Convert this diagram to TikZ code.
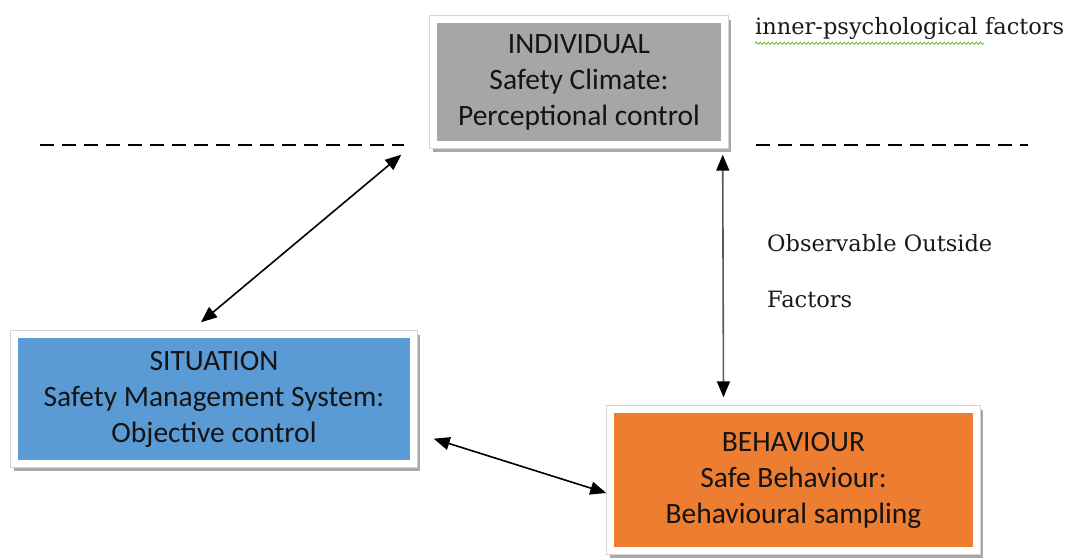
\documentclass[tikz,border=0pt]{standalone}
\usepackage{fontspec}
\setmainfont{DejaVu Serif}
\newfontfamily\boxfont{Carlito}
\usetikzlibrary{arrows.meta,calc,fit,backgrounds,shadows,decorations.pathmorphing}

\definecolor{greyfill}{HTML}{A6A6A6}
\definecolor{bluefill}{HTML}{5B9BD5}
\definecolor{orangefill}{HTML}{ED7D31}
\definecolor{framegrey}{HTML}{D4D4D4}
\definecolor{shadowgrey}{HTML}{A8A8A8}
\definecolor{spellgreen}{HTML}{6DB33F}

\tikzset{
  x=1pt, y=-1pt,
  panel/.style={rectangle, inner sep=0pt, align=center, text=black!92,
    font=\boxfont\fontsize{29.5}{36}\selectfont},
  frame/.style={rectangle, inner sep=7pt, fill=white, draw=framegrey, line width=1pt,
    drop shadow={shadow xshift=3pt, shadow yshift=-4pt, fill=shadowgrey, opacity=1}},
  link/.style={line width=1.6pt,
    {Triangle[length=16pt,width=13pt,color=black]}-{Triangle[length=16pt,width=13pt,color=black]}},
  divider/.style={line width=1.3pt, dash pattern=on 14pt off 8pt},
  note/.style={inner sep=0pt, anchor=west, text=black!90, font=\fontsize{22.5}{27}\selectfont}
}

\begin{document}
\begin{tikzpicture}
\useasboundingbox (0,0) rectangle (1071,558);

% coloured panels
\node[panel, fill=greyfill, minimum width=284pt, minimum height=118pt] (ind) at (579,82)
  {INDIVIDUAL\\Safety Climate:\\Perceptional control};
\node[panel, fill=bluefill, minimum width=392pt, minimum height=122pt] (sit) at (214,399)
  {SITUATION\\Safety Management System:\\Objective control};
\node[panel, fill=orangefill, minimum width=359pt, minimum height=134pt] (beh) at (793.5,480)
  {BEHAVIOUR\\Safe Behaviour:\\Behavioural sampling};

% white frames with shadow behind each panel
\begin{scope}[on background layer]
  \node[frame, fit=(ind)] (indf) {};
  \node[frame, fit=(sit)] (sitf) {};
  \node[frame, fit=(beh)] (behf) {};
\end{scope}

% dashed divider between inner and outer factors
\coordinate (dl1) at (40,145);
\coordinate (dl2) at (404,145);
\coordinate (dr1) at (756,145);
\coordinate (dr2) at (1028,145);
\draw[divider] (dl1) -- (dl2);
\draw[divider] (dr1) -- (dr2);

% labels
\node[note] (inner) at (755,28) {inner-psychological factors};
\draw[spellgreen, line width=0.8pt, decorate,
      decoration={snake, amplitude=1.2pt, segment length=4pt}]
  ($(inner.south west)+(0,4)$) -- ($(inner.south west)+(229,4)$);
\node[note] (obs) at (767,243) {Observable Outside};
\node[note] (fac) at (767,299) {Factors};

% relations
\draw[link] ($(indf.south west)+(-28,6)$) -- ($(sitf.north)+(-13,-8)$);
\draw[link, draw=black!65] ($(indf.south east)+(-6,6)$) -- ($(behf.north)+(-70,-8)$);
\draw[link] ($(sitf.south east)+(16,-29)$) -- ($(behf.west)+(0,13)$);
\end{tikzpicture}
\end{document}
